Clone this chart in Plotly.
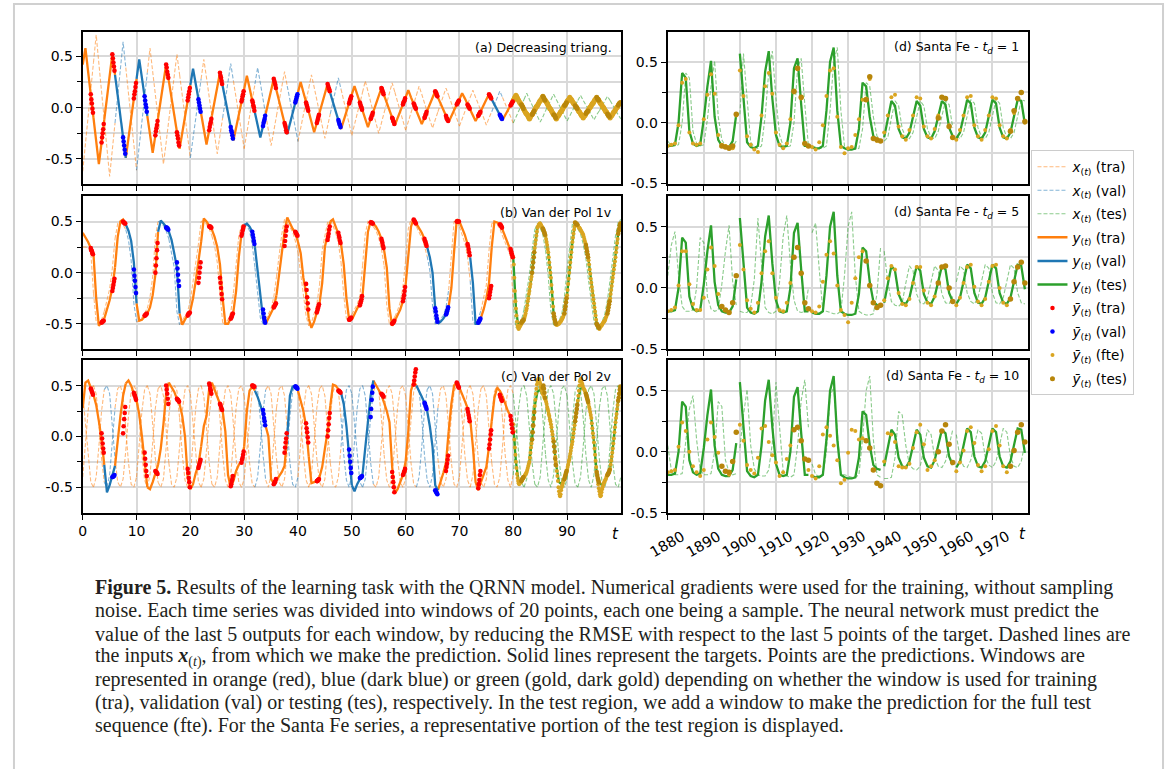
import plotly.graph_objects as go

W, H = 1170, 769

# ---------------- (a) Decreasing triangular ----------------
A_Y = [0.42, 0.58, 0.35, 0.13, -0.10, -0.32, -0.55, -0.34, -0.12, 0.09,
       0.31, 0.52, 0.32, 0.12, -0.09, -0.29, -0.49, -0.30, -0.11, 0.09,
       0.28, 0.47, 0.29, 0.11, -0.08, -0.26, -0.44, -0.27, -0.10, 0.08,
       0.25, 0.42, 0.26, 0.09, -0.07, -0.24, -0.40, -0.24, -0.09, 0.07,
       0.22, 0.38, 0.23, 0.08, -0.06, -0.21, -0.36, -0.22, -0.08, 0.06,
       0.20, 0.34, 0.21, 0.08, -0.06, -0.19, -0.32, -0.19, -0.07, 0.06,
       0.18, 0.31, 0.19, 0.07, -0.05, -0.17, -0.29, -0.18, -0.06, 0.05,
       0.17, 0.28, 0.17, 0.06, -0.04, -0.15, -0.26, -0.16, -0.06, 0.05,
       0.15, 0.25, 0.15, 0.05, -0.04, -0.14, -0.24, -0.15, -0.05, 0.04,
       0.14, 0.23, 0.14, 0.05, -0.03, -0.12, -0.21, -0.13, -0.04, 0.04,
       0.13, 0.21, 0.13, 0.05, -0.03, -0.11, -0.19, -0.11, -0.04, 0.04,
       0.11, 0.19, 0.12, 0.05, -0.03, -0.10, -0.17, -0.10, -0.03, 0.03,
       0.10, 0.17, 0.10, 0.04, -0.03, -0.09, -0.16, -0.10, -0.03, 0.03,
       0.10, 0.16, 0.10, 0.04, -0.02, -0.08, -0.14, -0.08, -0.03, 0.03,
       0.08, 0.14, 0.09, 0.03, -0.02, -0.08, -0.13, -0.08, -0.03, 0.03,
       0.08, 0.13, 0.08, 0.03, -0.02, -0.07, -0.12, -0.07, -0.02, 0.02,
       0.07, 0.12, 0.07, 0.03, -0.02, -0.06, -0.11, -0.07, -0.02, 0.02,
       0.07, 0.11, 0.07, 0.02, -0.02, -0.07, -0.11, -0.07, -0.03, 0.02,
       0.06, 0.10, 0.06, 0.02, -0.02, -0.06, -0.10, -0.06, -0.02, 0.02,
       0.06, 0.10, 0.06, 0.02, -0.02, -0.06, -0.10, -0.06, -0.02, 0.02,
       0.06]
A_X = [-0.62, -0.35, -0.09, 0.18, 0.44, 0.71, 0.43, 0.16, -0.12, -0.39,
       -0.67, -0.41, -0.15, 0.12, 0.38, 0.64, 0.39, 0.14, -0.11, -0.36,
       -0.61, -0.37, -0.13, 0.10, 0.34, 0.58, 0.35, 0.13, -0.10, -0.32,
       -0.55, -0.34, -0.12, 0.09, 0.31, 0.52, 0.32, 0.12, -0.09, -0.29,
       -0.49, -0.30, -0.11, 0.09, 0.28, 0.47, 0.29, 0.10, -0.08, -0.27,
       -0.45, -0.27, -0.10, 0.08, 0.25, 0.43, 0.26, 0.10, -0.07, -0.23,
       -0.40, -0.24, -0.08, 0.07, 0.23, 0.39, 0.24, 0.09, -0.07, -0.22,
       -0.37, -0.23, -0.08, 0.06, 0.21, 0.35, 0.21, 0.08, -0.06, -0.19,
       -0.33, -0.20, -0.07, 0.06, 0.19, 0.32, 0.20, 0.07, -0.05, -0.17,
       -0.30, -0.18, -0.06, 0.05, 0.17, 0.29, 0.18, 0.07, -0.05, -0.16,
       -0.27, -0.16, -0.06, 0.05, 0.15, 0.26, 0.16, 0.06, -0.05, -0.15,
       -0.25, -0.15, -0.05, 0.04, 0.14, 0.24, 0.15, 0.06, -0.04, -0.13,
       -0.22, -0.13, -0.05, 0.04, 0.12, 0.21, 0.13, 0.05, -0.04, -0.12,
       -0.20, -0.12, -0.04, 0.03, 0.11, 0.19, 0.12, 0.04, -0.03, -0.11,
       -0.18, -0.11, -0.04, 0.03, 0.10, 0.17, 0.10, 0.03, -0.03, -0.10,
       -0.17, -0.10, -0.04, 0.03, 0.09, 0.16, 0.10, 0.04, -0.03, -0.09,
       -0.15, -0.09, -0.03, 0.02, 0.08, 0.14, 0.08, 0.03, -0.03, -0.08,
       -0.14, -0.09, -0.03, 0.02, 0.08, 0.13, 0.08, 0.03, -0.03, -0.08,
       -0.13, -0.08, -0.03, 0.02, 0.07, 0.12, 0.07, 0.02, -0.02, -0.07,
       -0.12, -0.07, -0.03, 0.02, 0.06, 0.11, 0.07, 0.02, -0.02, -0.07,
       -0.11]
A_P = [0.13, 0.08, 0.04, -0.01, -0.05, -0.34, -0.29, -0.25, -0.21, -0.16,
       0.52, 0.48, 0.44, 0.40, 0.36, -0.29, -0.33, -0.37, -0.41, -0.45,
       0.09, 0.13, 0.16, 0.20, 0.24, 0.11, 0.07, 0.03, 0.00, -0.04,
       -0.27, -0.23, -0.20, -0.17, -0.13, 0.42, 0.39, 0.35, 0.32, 0.29,
       -0.24, -0.27, -0.30, -0.34, -0.37, 0.07, 0.10, 0.13, 0.16, 0.19,
       0.08, 0.05, 0.02, -0.01, -0.04, -0.22, -0.19, -0.16, -0.14, -0.11,
       0.34, 0.31, 0.29, 0.26, 0.23, -0.19, -0.22, -0.24, -0.27, -0.30,
       0.06, 0.08, 0.11, 0.13, 0.16, 0.07, 0.05, 0.02, 0.00, -0.03,
       -0.18, -0.15, -0.13, -0.11, -0.08, 0.28, 0.26, 0.24, 0.22, 0.19,
       -0.15, -0.17, -0.19, -0.22, -0.24, 0.05, 0.07, 0.09, 0.11, 0.13,
       0.05, 0.03, 0.01, -0.01, -0.03, -0.15, -0.13, -0.11, -0.09, -0.07,
       0.23, 0.21, 0.19, 0.18, 0.16, -0.12, -0.14, -0.16, -0.17, -0.19,
       0.04, 0.06, 0.08, 0.09, 0.11, 0.05, 0.03, 0.01, 0.00, -0.02,
       -0.11, -0.10, -0.08, -0.07, -0.05, 0.19, 0.18, 0.16, 0.15, 0.13,
       -0.10, -0.11, -0.13, -0.14, -0.16, 0.03, 0.05, 0.06, 0.07, 0.09,
       0.04, 0.03, 0.01, 0.00, -0.01, -0.10, -0.09, -0.07, -0.06, -0.04,
       0.16, 0.15, 0.14, 0.12, 0.11, -0.08, -0.10, -0.11, -0.12, -0.13,
       0.03, 0.04, 0.05, 0.06, 0.07, 0.03, 0.02, 0.01, 0.00, -0.01,
       -0.08, -0.07, -0.06, -0.05, -0.04, 0.13, 0.12, 0.11, 0.10, 0.09,
       -0.07, -0.08, -0.09, -0.10, -0.11, 0.02, 0.03, 0.04, 0.05, 0.06,
       0.03, 0.02, 0.01, 0.00, -0.01, -0.07, -0.06, -0.05, -0.04, -0.03,
       0.11, 0.10, 0.09, 0.08, 0.07, -0.07, -0.07, -0.08, -0.09, -0.10,
       0.02, 0.02, 0.03, 0.04, 0.05, 0.02, 0.01, 0.00, 0.00, -0.01,
       -0.06, -0.05, -0.04, -0.04, -0.03, 0.10, 0.09, 0.08, 0.08, 0.07,
       -0.06, -0.07, -0.08, -0.08, -0.09, 0.02, 0.03, 0.04, 0.04, 0.05]
A_F = [0.07, 0.08, 0.09, 0.10, 0.11,
       0.12, 0.11, 0.10, 0.09, 0.08, 0.07, 0.06, 0.05, 0.04, 0.04, 0.03, 0.02, 0.01, 0.00, -0.01,
       -0.02, -0.03, -0.04, -0.05, -0.06, -0.06, -0.07, -0.08, -0.09, -0.10,
       -0.11, -0.10, -0.09, -0.08, -0.07, -0.07, -0.06, -0.05, -0.04, -0.03, -0.02, -0.01, 0.00, 0.01, 0.01,
       0.02, 0.03, 0.04, 0.05, 0.06, 0.07, 0.07, 0.08, 0.09, 0.10,
       0.11, 0.10, 0.09, 0.08, 0.07, 0.07, 0.06, 0.05, 0.04, 0.03, 0.02, 0.01, 0.00, -0.01, -0.01,
       -0.02, -0.03, -0.04, -0.05, -0.06, -0.07, -0.07, -0.08, -0.09, -0.10,
       -0.11, -0.10, -0.09, -0.08, -0.08, -0.07, -0.06, -0.05, -0.04, -0.04, -0.03, -0.02, -0.01, 0.00, 0.01,
       0.02, 0.02, 0.03, 0.04, 0.05, 0.06, 0.07, 0.07, 0.08, 0.09,
       0.10, 0.09, 0.08, 0.08, 0.07, 0.06, 0.05, 0.04, 0.04, 0.03, 0.02, 0.01, 0.00, 0.00, -0.01,
       -0.02, -0.03, -0.04, -0.04, -0.05, -0.06, -0.07, -0.08, -0.08, -0.09,
       -0.10, -0.09, -0.08, -0.08, -0.07, -0.06, -0.05, -0.04, -0.04, -0.03, -0.02, -0.01, 0.00, 0.00, 0.01,
       0.02, 0.03, 0.04, 0.04, 0.05, 0.06, 0.07, 0.08, 0.08, 0.09,
       0.10, 0.09, 0.08, 0.08, 0.07, 0.06, 0.05, 0.04, 0.04, 0.03, 0.02, 0.01, 0.00, 0.00, -0.01,
       -0.02, -0.03, -0.04, -0.04, -0.05, -0.06, -0.07, -0.08, -0.08, -0.09,
       -0.10, -0.09, -0.08, -0.08, -0.07, -0.06, -0.05, -0.04, -0.04, -0.03,
       -0.02, -0.01, 0.00, 0.00, 0.01, 0.02, 0.03, 0.04, 0.04, 0.05]
A_VAL = [3, 5, 10, 13, 16, 19, 23, 38]

# ---------------- (b) Van der Pol 1v ----------------
B_Y = [0.39, 0.35, 0.30, 0.24, 0.18, -0.25, -0.52, -0.49, -0.45, -0.37,
       -0.27, -0.15, 0.05, 0.35, 0.50, 0.52, 0.47, 0.41, 0.31, 0.10,
       -0.30, -0.47, -0.46, -0.43, -0.40, -0.34, -0.22, -0.02, 0.40, 0.51,
       0.48, 0.45, 0.40, 0.32, 0.19, 0.05, -0.40, -0.51, -0.46, -0.41,
       -0.37, -0.25, -0.08, 0.10, 0.30, 0.53, 0.50, 0.46, 0.42, 0.35,
       0.25, 0.08, -0.25, -0.50, -0.50, -0.45, -0.38, -0.18, 0.15, 0.38,
       0.46, 0.48, 0.45, 0.40, 0.25, 0.03, -0.25, -0.45, -0.50, -0.45,
       -0.40, -0.34, -0.22, -0.02, 0.22, 0.40, 0.54, 0.48, 0.43, 0.39,
       0.30, 0.19, -0.05, -0.20, -0.45, -0.54, -0.48, -0.38, -0.30, -0.10,
       0.25, 0.38, 0.50, 0.52, 0.45, 0.38, 0.28, 0.08, -0.25, -0.46,
       -0.46, -0.40, -0.35, -0.30, -0.22, 0.10, 0.40, 0.50, 0.48, 0.45,
       0.40, 0.33, 0.22, 0.05, -0.35, -0.52, -0.47, -0.42, -0.36, -0.28,
       -0.12, 0.15, 0.45, 0.53, 0.48, 0.44, 0.39, 0.33, 0.25, 0.15,
       0.00, -0.35, -0.50, -0.48, -0.45, -0.41, -0.33, -0.15, 0.20, 0.52,
       0.50, 0.44, 0.37, 0.28, 0.15, -0.10, -0.50, -0.50, -0.44, -0.36,
       -0.25, -0.10, 0.25, 0.50, 0.49, 0.47, 0.42, 0.35, 0.28, 0.22,
       0.15, -0.35, -0.55, -0.50, -0.46, -0.35, -0.18, 0.00, 0.24, 0.44,
       0.48, 0.43, 0.36, 0.20, -0.05, -0.40, -0.51, -0.50, -0.46, -0.40,
       -0.22, 0.05, 0.30, 0.49, 0.46, 0.42, 0.37, 0.27, 0.12, -0.10,
       -0.30, -0.50, -0.55, -0.51, -0.47, -0.40, -0.25, -0.05, 0.15, 0.38,
       0.50]
B_X = [0.25, 0.25, 0.24, 0.20, -0.20, -0.48, -0.50, -0.46, -0.38, -0.28,
       -0.16, 0.04, 0.33, 0.48, 0.50, 0.47, 0.42, 0.32, 0.12, -0.30,
       -0.48, -0.47, -0.44, -0.40, -0.35, -0.24, -0.04, 0.35, 0.50, 0.49,
       0.46, 0.41, 0.33, 0.20, 0.05, -0.38, -0.51, -0.47, -0.42, -0.38,
       -0.27, -0.10, 0.08, 0.28, 0.50, 0.51, 0.47, 0.43, 0.36, 0.26,
       0.10, -0.22, -0.49, -0.50, -0.46, -0.39, -0.20, 0.12, 0.36, 0.46,
       0.48, 0.46, 0.41, 0.27, 0.05, -0.22, -0.44, -0.50, -0.46, -0.41,
       -0.35, -0.24, -0.04, 0.20, 0.38, 0.52, 0.49, 0.44, 0.40, 0.31,
       0.20, -0.02, -0.18, -0.42, -0.52, -0.49, -0.40, -0.31, -0.12, 0.22,
       0.36, 0.49, 0.51, 0.46, 0.39, 0.29, 0.10, -0.22, -0.45, -0.47,
       -0.41, -0.36, -0.31, -0.23, 0.07, 0.38, 0.50, 0.48, 0.45, 0.41,
       0.34, 0.23, 0.07, -0.32, -0.51, -0.48, -0.43, -0.37, -0.29, -0.14,
       0.12, 0.43, 0.52, 0.49, 0.45, 0.40, 0.34, 0.26, 0.16, 0.02,
       -0.32, -0.50, -0.49, -0.46, -0.42, -0.34, -0.17, 0.17, 0.50, 0.50,
       0.45, 0.38, 0.29, 0.16, -0.08, -0.48, -0.50, -0.45, -0.37, -0.26,
       -0.12, 0.22, 0.48, 0.49, 0.47, 0.43, 0.36, 0.29, 0.23, 0.16,
       -0.30, -0.54, -0.51, -0.47, -0.36, -0.20, -0.02, 0.22, 0.42, 0.48,
       0.44, 0.37, 0.22, -0.03, -0.38, -0.51, -0.51, -0.47, -0.41, -0.24,
       0.03, 0.28, 0.48, 0.47, 0.43, 0.38, 0.28, 0.14, -0.08, -0.28,
       -0.48, -0.55, -0.52, -0.48, -0.41, -0.27, -0.07, 0.13, 0.36, 0.49,
       0.52]
B_P = [0.24, 0.22, 0.21, 0.19, 0.18, -0.49, -0.48, -0.48, -0.47, -0.47,
       -0.18, -0.15, -0.12, -0.09, -0.06, 0.50, 0.49, 0.49, 0.48, 0.48,
       0.03, -0.03, -0.08, -0.14, -0.20, -0.42, -0.42, -0.41, -0.41, -0.40,
       0.00, 0.07, 0.14, 0.22, 0.29, 0.44, 0.44, 0.43, 0.43, 0.42,
       0.10, 0.04, -0.02, -0.08, -0.13, -0.42, -0.41, -0.40, -0.40, -0.39,
       -0.10, -0.05, 0.00, 0.05, 0.10, 0.45, 0.45, 0.45, 0.44, 0.44,
       -0.05, -0.10, -0.15, -0.21, -0.26, -0.45, -0.44, -0.43, -0.41, -0.40,
       0.36, 0.38, 0.41, 0.43, 0.45, 0.40, 0.37, 0.34, 0.31, 0.28,
       -0.36, -0.40, -0.44, -0.47, -0.49, -0.34, -0.33, -0.32, -0.31, -0.30,
       0.26, 0.31, 0.36, 0.41, 0.45, 0.40, 0.39, 0.38, 0.37, 0.36,
       -0.11, -0.17, -0.24, -0.30, -0.36, -0.39, -0.37, -0.35, -0.33, -0.31,
       0.32, 0.35, 0.38, 0.42, 0.45, 0.39, 0.36, 0.34, 0.31, 0.29,
       -0.46, -0.46, -0.45, -0.45, -0.44, -0.32, -0.30, -0.28, -0.26, -0.23,
       0.49, 0.49, 0.49, 0.48, 0.48, 0.33, 0.31, 0.29, 0.26, 0.24,
       -0.50, -0.49, -0.49, -0.48, -0.47, -0.28, -0.25, -0.22, -0.18, -0.14,
       0.52, 0.51, 0.50, 0.49, 0.48, 0.33, 0.31, 0.30, 0.28, 0.26,
       -0.35, -0.38, -0.42, -0.45, -0.48, -0.41, -0.40, -0.38, -0.36, -0.34,
       0.50, 0.50, 0.50, 0.50, 0.50, 0.28, 0.26, 0.23, 0.20, 0.17,
       -0.49, -0.48, -0.47, -0.46, -0.45, -0.25, -0.22, -0.19, -0.16, -0.13,
       0.47, 0.47, 0.46, 0.45, 0.44, 0.23, 0.21, 0.19, 0.17, 0.15,
       -0.49, -0.48, -0.47, -0.47, -0.46, 0.00, 0.05, 0.10, 0.15, 0.20,
       0.43, 0.42, 0.40, 0.39, 0.37, -0.40, -0.43, -0.46, -0.48, -0.50,
       -0.40, -0.36, -0.33, -0.29, -0.25, 0.49, 0.48, 0.48, 0.47, 0.47,
       0.27, 0.24, 0.21, 0.18, 0.15, -0.50, -0.51, -0.52, -0.53, -0.54,
       -0.40, -0.37, -0.34, -0.31, -0.28, 0.38, 0.41, 0.43, 0.46, 0.48]
B_F = [0.15, 0.08, -0.05, -0.18, -0.28, -0.35, -0.42, -0.48, -0.52, -0.54,
       -0.55, -0.54, -0.53, -0.52, -0.51, -0.50, -0.49, -0.48, -0.47, -0.47,
       -0.46, -0.44, -0.42, -0.40, -0.37, -0.35, -0.32, -0.28, -0.25, -0.21,
       -0.18, -0.14, -0.11, -0.07, -0.04, 0.00, 0.05, 0.10, 0.15, 0.20,
       0.24, 0.28, 0.32, 0.36, 0.40, 0.44, 0.45, 0.46, 0.47, 0.48,
       0.48, 0.47, 0.46, 0.45, 0.44, 0.43, 0.42, 0.40, 0.39, 0.37,
       0.36, 0.33, 0.30, 0.27, 0.23, 0.20, 0.15, 0.10, 0.05, 0.00,
       -0.05, -0.12, -0.19, -0.26, -0.33, -0.40, -0.43, -0.46, -0.48, -0.50,
       -0.51, -0.51, -0.51, -0.50, -0.50, -0.50, -0.49, -0.48, -0.48, -0.47,
       -0.46, -0.45, -0.44, -0.43, -0.41, -0.40, -0.36, -0.33, -0.29, -0.25,
       -0.22, -0.17, -0.11, -0.06, 0.00, 0.05, 0.10, 0.15, 0.20, 0.25,
       0.30, 0.34, 0.38, 0.42, 0.45, 0.49, 0.48, 0.48, 0.47, 0.47,
       0.46, 0.45, 0.44, 0.44, 0.43, 0.42, 0.41, 0.40, 0.39, 0.38,
       0.37, 0.35, 0.33, 0.31, 0.29, 0.27, 0.24, 0.21, 0.18, 0.15,
       0.12, 0.08, 0.03, -0.01, -0.06, -0.10, -0.14, -0.18, -0.22, -0.26,
       -0.30, -0.34, -0.38, -0.42, -0.46, -0.50, -0.51, -0.52, -0.53, -0.54,
       -0.55, -0.54, -0.53, -0.52, -0.52, -0.51, -0.50, -0.49, -0.48, -0.48,
       -0.47, -0.46, -0.44, -0.43, -0.41, -0.40, -0.37, -0.34, -0.31, -0.28,
       -0.25, -0.21, -0.17, -0.13, -0.09, -0.05, -0.01, 0.03, 0.07, 0.11,
       0.15, 0.20, 0.24, 0.29, 0.33, 0.38, 0.41, 0.43, 0.46, 0.48]
B_VAL = [4, 7, 8, 15, 16, 32, 33, 36]

# ---------------- (c) Van der Pol 2v ----------------
C_Y = [0.28, 0.53, 0.55, 0.47, 0.41, 0.31, 0.15, -0.03, -0.28, -0.55,
       -0.48, -0.39, -0.29, -0.02, 0.20, 0.40, 0.52, 0.55, 0.50, 0.42,
       0.35, 0.22, 0.00, -0.28, -0.50, -0.52, -0.45, -0.37, -0.28, -0.12,
       0.12, 0.42, 0.53, 0.49, 0.44, 0.37, 0.32, 0.20, 0.00, -0.40,
       -0.52, -0.47, -0.36, -0.28, -0.10, 0.10, 0.20, 0.47, 0.53, 0.46,
       0.40, 0.31, 0.25, 0.05, -0.38, -0.50, -0.44, -0.34, -0.28, -0.24,
       -0.10, 0.25, 0.45, 0.49, 0.45, 0.39, 0.31, 0.22, 0.10, 0.00,
       -0.42, -0.46, -0.43, -0.39, -0.35, -0.29, 0.00, 0.40, 0.49, 0.50,
       0.45, 0.35, 0.25, 0.10, -0.20, -0.46, -0.45, -0.44, -0.40, -0.30,
       -0.12, 0.05, 0.30, 0.51, 0.50, 0.46, 0.43, 0.32, 0.10, -0.18,
       -0.48, -0.54, -0.47, -0.42, -0.37, -0.10, 0.20, 0.40, 0.55, 0.50,
       0.45, 0.41, 0.33, 0.25, 0.14, -0.30, -0.56, -0.52, -0.45, -0.38,
       -0.25, 0.05, 0.45, 0.54, 0.50, 0.45, 0.39, 0.33, 0.25, 0.10,
       -0.10, -0.48, -0.53, -0.45, -0.36, -0.26, 0.05, 0.32, 0.50, 0.53,
       0.48, 0.42, 0.35, 0.28, 0.17, -0.10, -0.45, -0.53, -0.45, -0.38,
       -0.30, -0.10, 0.15, 0.38, 0.48, 0.45, 0.40, 0.32, 0.25, 0.20,
       0.10, -0.25, -0.45, -0.44, -0.40, -0.35, -0.25, -0.03, 0.30, 0.44,
       0.46, 0.42, 0.36, 0.25, 0.12, -0.05, -0.29, -0.45, -0.47, -0.42,
       -0.33, -0.20, -0.05, 0.15, 0.35, 0.47, 0.48, 0.42, 0.32, 0.18,
       -0.06, -0.35, -0.46, -0.48, -0.44, -0.38, -0.32, -0.12, 0.14, 0.35,
       0.50]
C_X1 = [0.42, 0.12, -0.22, -0.45,
        -0.50, -0.40, -0.10, 0.25, 0.46, 0.50, 0.42, 0.12, -0.22, -0.45,
        -0.50, -0.42, -0.14, 0.20, 0.44, 0.50, 0.45, 0.18, -0.18, -0.43,
        -0.50, -0.38, -0.06, 0.28, 0.47, 0.50, 0.40, 0.08, -0.26, -0.47,
        -0.50, -0.40, -0.10, 0.25, 0.46, 0.50, 0.42, 0.12, -0.22, -0.45,
        -0.50, -0.42, -0.14, 0.20, 0.44, 0.50, 0.45, 0.18, -0.18, -0.43,
        -0.50, -0.38, -0.06, 0.28, 0.47, 0.50, 0.40, 0.08, -0.26, -0.47,
        -0.50, -0.40, -0.10, 0.25, 0.46, 0.50, 0.42, 0.12, -0.22, -0.45,
        -0.50, -0.42, -0.14, 0.20, 0.44, 0.50, 0.45, 0.18, -0.18, -0.43,
        -0.50, -0.38, -0.06, 0.28, 0.47, 0.50, 0.40, 0.08, -0.26, -0.47,
        -0.50, -0.40, -0.10, 0.25, 0.46, 0.50, 0.42, 0.12, -0.22, -0.45,
        -0.50, -0.42, -0.14, 0.20, 0.44, 0.50, 0.45, 0.18, -0.18, -0.43,
        -0.50, -0.38, -0.06, 0.28, 0.47, 0.50, 0.40, 0.08, -0.26, -0.47,
        -0.50, -0.40, -0.10, 0.25, 0.46, 0.50, 0.42, 0.12, -0.22, -0.45,
        -0.50, -0.42, -0.14, 0.20, 0.44, 0.50, 0.45, 0.18, -0.18, -0.43,
        -0.50, -0.38, -0.06, 0.28, 0.47, 0.50, 0.40, 0.08, -0.26, -0.47,
        -0.50, -0.40, -0.10, 0.25, 0.46, 0.50, 0.42, 0.12, -0.22, -0.45,
        -0.50, -0.42, -0.14, 0.20, 0.44, 0.50, 0.45, 0.18, -0.18, -0.43,
        -0.50, -0.38, -0.06, 0.28, 0.47, 0.50, 0.40, 0.08, -0.26, -0.47,
        -0.50, -0.40, -0.10, 0.25, 0.46, 0.50, 0.42, 0.12, -0.22, -0.45,
        -0.50, -0.40, -0.10, 0.25, 0.46, 0.50, 0.42]
C_X2 = [-0.40, -0.10, 0.25, 0.46, 0.50, 0.42, 0.12, -0.22, -0.45,
        -0.50, -0.38, -0.06, 0.28, 0.47, 0.50, 0.40, 0.08, -0.26, -0.47,
        -0.50, -0.40, -0.10, 0.25, 0.46, 0.50, 0.42, 0.12, -0.22, -0.45,
        -0.50, -0.42, -0.14, 0.20, 0.44, 0.50, 0.45, 0.18, -0.18, -0.43,
        -0.50, -0.38, -0.06, 0.28, 0.47, 0.50, 0.40, 0.08, -0.26, -0.47,
        -0.50, -0.40, -0.10, 0.25, 0.46, 0.50, 0.42, 0.12, -0.22, -0.45,
        -0.50, -0.42, -0.14, 0.20, 0.44, 0.50, 0.45, 0.18, -0.18, -0.43,
        -0.50, -0.38, -0.06, 0.28, 0.47, 0.50, 0.40, 0.08, -0.26, -0.47,
        -0.50, -0.40, -0.10, 0.25, 0.46, 0.50, 0.42, 0.12, -0.22, -0.45,
        -0.50, -0.42, -0.14, 0.20, 0.44, 0.50, 0.45, 0.18, -0.18, -0.43,
        -0.50, -0.38, -0.06, 0.28, 0.47, 0.50, 0.40, 0.08, -0.26, -0.47,
        -0.50, -0.40, -0.10, 0.25, 0.46, 0.50, 0.42, 0.12, -0.22, -0.45,
        -0.50, -0.42, -0.14, 0.20, 0.44, 0.50, 0.45, 0.18, -0.18, -0.43,
        -0.50, -0.38, -0.06, 0.28, 0.47, 0.50, 0.40, 0.08, -0.26, -0.47,
        -0.50, -0.40, -0.10, 0.25, 0.46, 0.50, 0.42, 0.12, -0.22, -0.45,
        -0.50, -0.42, -0.14, 0.20, 0.44, 0.50, 0.45, 0.18, -0.18, -0.43,
        -0.50, -0.38, -0.06, 0.28, 0.47, 0.50, 0.40, 0.08, -0.26, -0.47,
        -0.50, -0.40, -0.10, 0.25, 0.46, 0.50, 0.42, 0.12, -0.22, -0.45,
        -0.50, -0.42, -0.14, 0.20, 0.44, 0.50, 0.45, 0.18, -0.18, -0.43,
        -0.50, -0.38, -0.06, 0.28, 0.47, 0.50, 0.40, 0.08, -0.26, -0.47,
        -0.50, -0.40]
C_P = [0.47, 0.46, 0.44, 0.43, 0.41, 0.03, -0.02, -0.07, -0.12, -0.16,
       -0.40, -0.40, -0.39, -0.39, -0.38, 0.03, 0.10, 0.17, 0.23, 0.29,
       0.43, 0.41, 0.40, 0.38, 0.36, -0.16, -0.22, -0.28, -0.34, -0.39,
       -0.34, -0.35, -0.35, -0.36, -0.37, 0.50, 0.46, 0.42, 0.37, 0.32,
       0.37, 0.36, 0.36, 0.35, 0.34, -0.32, -0.36, -0.41, -0.45, -0.50,
       -0.31, -0.29, -0.27, -0.25, -0.23, 0.52, 0.50, 0.47, 0.45, 0.42,
       0.32, 0.31, 0.29, 0.27, 0.26, -0.49, -0.47, -0.44, -0.42, -0.39,
       -0.26, -0.23, -0.21, -0.18, -0.15, 0.50, 0.50, 0.49, 0.49, 0.49,
       0.26, 0.22, 0.18, 0.15, 0.11, -0.47, -0.46, -0.45, -0.44, -0.42,
       -0.16, -0.11, -0.06, -0.02, 0.03, 0.49, 0.49, 0.48, 0.48, 0.47,
       0.13, 0.08, 0.04, -0.01, -0.06, -0.44, -0.44, -0.43, -0.43, -0.42,
       0.00, 0.06, 0.12, 0.18, 0.23, 0.45, 0.45, 0.44, 0.44, 0.43,
       -0.13, -0.19, -0.25, -0.31, -0.36, -0.41, -0.41, -0.40, -0.40, -0.39,
       0.19, 0.27, 0.36, 0.43, 0.49, 0.42, 0.41, 0.41, 0.40, 0.39,
       -0.35, -0.40, -0.45, -0.50, -0.55, -0.38, -0.37, -0.35, -0.34, -0.32,
       0.51, 0.55, 0.59, 0.63, 0.66, 0.33, 0.32, 0.30, 0.29, 0.27,
       -0.53, -0.54, -0.55, -0.56, -0.57, -0.34, -0.30, -0.27, -0.23, -0.19,
       0.53, 0.52, 0.50, 0.49, 0.48, 0.27, 0.24, 0.21, 0.18, 0.15,
       -0.51, -0.47, -0.43, -0.38, -0.34, -0.12, -0.08, -0.03, 0.02, 0.06,
       0.41, 0.39, 0.38, 0.36, 0.35, 0.20, 0.16, 0.12, 0.08, 0.04,
       -0.44, -0.43, -0.42, -0.41, -0.40, -0.03, 0.04, 0.11, 0.18, 0.24,
       0.48, 0.50, 0.47, 0.43, 0.38, -0.05, -0.10, -0.15, -0.22, -0.28,
       -0.42, -0.40, -0.38, -0.36, -0.34, 0.15, 0.19, 0.23, 0.27, 0.31,
       0.42, 0.40, 0.38, 0.36, 0.34, -0.35, -0.38, -0.41, -0.43, -0.45,
       -0.38, -0.37, -0.36, -0.35, -0.33, 0.35, 0.38, 0.42, 0.46, 0.49]
C_F = [0.12, 0.05, -0.03, -0.11, -0.18, -0.25, -0.31, -0.37, -0.41, -0.44,
       -0.46, -0.47, -0.46, -0.45, -0.45, -0.44, -0.43, -0.42, -0.41, -0.41,
       -0.40, -0.39, -0.38, -0.37, -0.36, -0.35, -0.33, -0.31, -0.29, -0.27,
       -0.25, -0.21, -0.16, -0.11, -0.07, -0.03, 0.04, 0.10, 0.17, 0.24,
       0.30, 0.36, 0.42, 0.47, 0.51, 0.54, 0.56, 0.57, 0.56, 0.54,
       0.52, 0.49, 0.47, 0.45, 0.43, 0.42, 0.41, 0.40, 0.38, 0.37,
       0.36, 0.34, 0.32, 0.29, 0.27, 0.25, 0.22, 0.20, 0.17, 0.15,
       0.12, 0.09, 0.05, 0.02, -0.02, -0.05, -0.10, -0.15, -0.20, -0.25,
       -0.29, -0.34, -0.39, -0.44, -0.50, -0.54, -0.57, -0.59, -0.57, -0.53,
       -0.50, -0.48, -0.46, -0.44, -0.43, -0.42, -0.40, -0.38, -0.36, -0.35,
       -0.33, -0.30, -0.28, -0.25, -0.23, -0.20, -0.17, -0.14, -0.11, -0.08,
       -0.05, -0.01, 0.03, 0.07, 0.11, 0.15, 0.19, 0.23, 0.27, 0.31,
       0.35, 0.40, 0.45, 0.50, 0.54, 0.56, 0.57, 0.55, 0.52, 0.50,
       0.48, 0.47, 0.46, 0.45, 0.43, 0.42, 0.40, 0.38, 0.36, 0.34,
       0.32, 0.29, 0.27, 0.24, 0.21, 0.18, 0.13, 0.08, 0.03, -0.01,
       -0.06, -0.12, -0.18, -0.24, -0.30, -0.35, -0.39, -0.43, -0.47, -0.51,
       -0.54, -0.57, -0.59, -0.58, -0.55, -0.52, -0.50, -0.48, -0.46, -0.45,
       -0.44, -0.43, -0.42, -0.40, -0.39, -0.38, -0.37, -0.36, -0.35, -0.33,
       -0.32, -0.28, -0.24, -0.20, -0.16, -0.12, -0.07, -0.02, 0.04, 0.09,
       0.14, 0.18, 0.22, 0.27, 0.31, 0.35, 0.38, 0.42, 0.46, 0.49]
C_VAL = [2, 16, 19, 24, 25, 26, 31, 32]

# ---------------- (d) Santa Fe (years 1870-1979) ----------------
SF_FIRST_YEAR = 1870
SF_Y = [0.05, -0.15, -0.19, -0.19, -0.18, 0.10, 0.35, 0.46, 0.10, -0.15,
        -0.19, -0.19, -0.18, 0.00, 0.41, 0.37, -0.07, -0.17, -0.19, -0.18,
        0.03, 0.30, 0.51, 0.05, -0.14, -0.19, -0.20, -0.20, -0.15, 0.07,
        0.57, 0.20, -0.16, -0.20, -0.21, -0.19, 0.05, 0.42, 0.59, 0.20,
        -0.10, -0.19, -0.20, -0.19, 0.00, 0.45, 0.53, 0.15, -0.19, -0.19,
        -0.20, -0.21, -0.21, -0.19, 0.10, 0.50, 0.62, 0.10, -0.19, -0.21,
        -0.22, -0.22, -0.21, -0.05, 0.33, 0.30, 0.05, -0.11, -0.14, -0.15,
        -0.12, 0.04, 0.18, 0.14, -0.05, -0.12, -0.13, -0.08, 0.05, 0.18,
        0.14, -0.05, -0.12, -0.13, -0.07, 0.05, 0.18, 0.15, -0.04, -0.11,
        -0.13, -0.08, 0.05, 0.19, 0.16, -0.04, -0.12, -0.13, -0.08, 0.07,
        0.19, 0.16, -0.04, -0.12, -0.13, -0.08, 0.07, 0.19, 0.18, -0.01]
TES_YEARS = [1895, 1896, 1897, 1898, 1899, 1915, 1916, 1917, 1918, 1919,
             1935, 1936, 1937, 1938, 1939, 1955, 1956, 1957, 1958, 1959,
             1975, 1976, 1977, 1978, 1979]
TD1_F = [-0.19, -0.18, -0.17, -0.02, 0.33, 0.36, -0.08, -0.17, -0.18, -0.17,
         0.03, 0.23, 0.40, 0.24, -0.10, -0.18, -0.19, -0.20, -0.21, 0.06,
         0.43, 0.22, -0.11, -0.18, -0.22, -0.24, 0.06, 0.30, 0.41, 0.24,
         -0.08, -0.18, -0.21, -0.17, 0.03, 0.25, 0.44, 0.20, -0.17, -0.19,
         -0.20, -0.22, -0.16, -0.02, 0.22, 0.43, 0.45, 0.05, -0.20, -0.25,
         -0.21, -0.20, -0.10, 0.03, 0.19, 0.20, 0.36, -0.13, -0.15, -0.15,
         -0.08, 0.06, 0.21, 0.23, -0.03, -0.11, -0.14, -0.06, 0.06, 0.21,
         0.20, -0.03, -0.11, -0.13, -0.05, 0.06, 0.21, 0.20, -0.02, -0.12,
         -0.14, -0.06, 0.06, 0.21, 0.22, -0.02, -0.11, -0.14, -0.06, 0.06,
         0.21, 0.20, -0.02, -0.11, -0.13, -0.06, 0.08, 0.20, 0.25, 0.00]
TD1_T = [-0.19, -0.20, -0.21, -0.19, 0.07, 0.26, 0.45, 0.21, -0.17, -0.19,
         0.19, 0.38, -0.13, -0.14, -0.15, 0.04, 0.21, 0.20, -0.03, -0.12,
         -0.07, 0.10, 0.20, 0.25, 0.01]
TD5_F = [-0.19, -0.18, -0.16, 0.02, 0.30, 0.30, 0.03, -0.13, -0.18, -0.18,
         -0.08, 0.15, 0.33, 0.18, -0.05, -0.15, -0.18, -0.20, -0.12, 0.10,
         0.35, 0.15, -0.10, -0.17, -0.20, -0.12, 0.12, 0.30, 0.38, 0.12,
         -0.08, -0.18, -0.19, -0.12, 0.04, 0.25, 0.33, 0.12, -0.12, -0.17,
         -0.19, -0.20, -0.15, 0.05, 0.27, 0.38, 0.28, 0.02, -0.18, -0.22,
         -0.28, -0.12, 0.08, 0.25, 0.30, 0.22, 0.02, -0.12, -0.16, -0.14,
         -0.10, 0.08, 0.18, 0.15, -0.04, -0.13, -0.14, -0.09, 0.04, 0.17,
         0.17, -0.02, -0.12, -0.14, -0.07, 0.04, 0.17, 0.18, 0.00, -0.11,
         -0.14, -0.08, 0.04, 0.17, 0.19, 0.01, -0.11, -0.14, -0.09, 0.05,
         0.18, 0.19, 0.00, -0.12, -0.14, -0.09, 0.05, 0.17, 0.21, 0.04]
TD5_T = [-0.15, -0.18, -0.20, -0.12, 0.10, 0.25, 0.33, 0.12, -0.12, -0.17,
         0.22, 0.02, -0.12, -0.16, -0.14, 0.04, 0.17, 0.18, 0.00, -0.11,
         -0.09, 0.05, 0.17, 0.21, 0.04]
TD10_F = [-0.17, -0.16, -0.15, 0.04, 0.24, 0.17, 0.00, -0.12, -0.17, -0.20,
          -0.15, 0.10, 0.24, 0.12, -0.01, -0.12, -0.16, -0.19, -0.08, 0.16,
          0.22, 0.09, -0.11, -0.15, -0.18, -0.05, 0.19, 0.21, 0.08, -0.03,
          -0.09, -0.20, -0.17, -0.06, 0.05, 0.18, 0.20, 0.09, -0.06, -0.15,
          -0.20, -0.22, -0.12, 0.14, 0.20, 0.13, 0.05, -0.07, -0.26, -0.23,
          -0.01, 0.18, 0.17, 0.10, 0.11, 0.09, 0.03, -0.15, -0.26, -0.28,
          -0.08, 0.15, 0.14, 0.08, -0.12, -0.13, -0.13, -0.10, 0.03, 0.16,
          0.22, 0.06, -0.15, -0.12, -0.07, 0.00, 0.17, 0.22, 0.06, -0.09,
          -0.16, -0.09, 0.01, 0.17, 0.20, 0.07, -0.11, -0.16, -0.12, 0.02,
          0.17, 0.21, 0.05, -0.12, -0.17, -0.12, 0.01, 0.16, 0.22, 0.08]
TD10_T = [-0.12, -0.16, -0.17, -0.08, 0.16, 0.18, 0.20, 0.09, -0.06, -0.07,
          0.09, 0.03, -0.15, -0.26, -0.28, 0.00, 0.17, 0.22, 0.06, -0.09,
          -0.12, 0.01, 0.16, 0.22, 0.08]

LEFT_XTICKS = [0, 10, 20, 30, 40, 50, 60, 70, 80, 90]
RIGHT_XTICKS = [1880, 1890, 1900, 1910, 1920, 1930, 1940, 1950, 1960, 1970]
YTICKS = [-0.5, 0.0, 0.5]
YTICK_TEXT = ['-0.5', '0.0', '0.5']
YMINOR = [-0.25, 0.25]

# ---------------- styling ----------------
ORANGE, BLUE, GREEN = '#ff7f0e', '#1f77b4', '#2ca02c'
LINE_COL = {'t': ORANGE, 'v': BLUE, 'e': GREEN}
DASH_COL = {'t': 'rgba(255,127,14,0.55)', 'v': 'rgba(31,119,180,0.55)', 'e': 'rgba(44,160,44,0.55)'}
DOT_COL = {'t': '#ff0000', 'v': '#0000ff', 'e': '#b8860b'}
FTE_COL = '#daa520'
TES_COL = '#b8860b'
DASH = '4px,2px'
FONT = 'DejaVu Sans'
GRID = '#d9d9d9'


def px(x):
    return x / W


def py(y):
    return 1 - y / H


LEFT_DOM = [px(79), px(619)]
RIGHT_DOM = [px(666), px(1028)]
ROW_DOM = [[py(185.5), py(32)], [py(353), py(198)], [py(518), py(364)]]

fig = go.Figure()

STEP = 0.5
N_WIN = 50


def roles_for(val):
    return ['e' if k >= 40 else ('v' if k in val else 't') for k in range(N_WIN)]


def add_windows(series, roles, ax, dashed):
    for role in 'tve':
        xs, ys = [], []
        for k in range(N_WIN):
            if roles[k] != role:
                continue
            for i in range(4 * k, 4 * k + 5):
                if i < len(series):
                    xs.append(i * STEP)
                    ys.append(series[i])
            xs.append(None)
            ys.append(None)
        if not xs:
            continue
        if dashed:
            line = dict(color=DASH_COL[role], width=1.1, dash=DASH)
        else:
            line = dict(color=LINE_COL[role], width=2.3)
        fig.add_trace(go.Scatter(x=xs, y=ys, mode='lines', line=line, showlegend=False,
                                 hoverinfo='skip', xaxis='x' + ax, yaxis='y' + ax))


def add_left(ax, dashed_list, y, preds, fte, val, fte_size):
    roles = roles_for(val)
    for d in dashed_list:
        add_windows(d, roles, ax, True)
    add_windows(y, roles, ax, False)
    fx = [80 + 0.1 * i for i in range(len(fte))]
    fig.add_trace(go.Scatter(x=fx, y=fte, mode='markers', marker=dict(color=FTE_COL, size=fte_size),
                             showlegend=False, hoverinfo='skip', xaxis='x' + ax, yaxis='y' + ax))
    for role in 'tve':
        xs, ys = [], []
        for k in range(N_WIN):
            if roles[k] != role:
                continue
            for j in range(5):
                idx = 5 * k + j
                if idx < len(preds):
                    xs.append(2 * k + 1.5 + 0.1 * j)
                    ys.append(preds[idx])
        fig.add_trace(go.Scatter(x=xs, y=ys, mode='markers',
                                 marker=dict(color=DOT_COL[role], size=4.6),
                                 showlegend=False, hoverinfo='skip', xaxis='x' + ax, yaxis='y' + ax))


def add_right(ax, td, fte, tes):
    xs_d, ys_d, xs_s, ys_s = [], [], [], []
    for w in range(5):
        y0 = 1880 + 20 * w
        for yr in range(y0, y0 + 20):
            xs_d.append(yr)
            ys_d.append(SF_Y[yr - td - SF_FIRST_YEAR])
            xs_s.append(yr)
            ys_s.append(SF_Y[yr - SF_FIRST_YEAR])
        xs_d.append(None); ys_d.append(None)
        xs_s.append(None); ys_s.append(None)
    fig.add_trace(go.Scatter(x=xs_d, y=ys_d, mode='lines', line=dict(color=DASH_COL['e'], width=1.1, dash=DASH),
                             showlegend=False, hoverinfo='skip', xaxis='x' + ax, yaxis='y' + ax))
    fig.add_trace(go.Scatter(x=xs_s, y=ys_s, mode='lines', line=dict(color=GREEN, width=2.3),
                             showlegend=False, hoverinfo='skip', xaxis='x' + ax, yaxis='y' + ax))
    fig.add_trace(go.Scatter(x=list(range(1880, 1880 + len(fte))), y=fte, mode='markers',
                             marker=dict(color=FTE_COL, size=4),
                             showlegend=False, hoverinfo='skip', xaxis='x' + ax, yaxis='y' + ax))
    fig.add_trace(go.Scatter(x=TES_YEARS, y=tes, mode='markers', marker=dict(color=TES_COL, size=5.5),
                             showlegend=False, hoverinfo='skip', xaxis='x' + ax, yaxis='y' + ax))


add_left('', [A_X], A_Y, A_P, A_F, A_VAL, 5)
add_left('2', [B_X], B_Y, B_P, B_F, B_VAL, 4)
add_left('3', [C_X1, C_X2], C_Y, C_P, C_F, C_VAL, 4)
add_right('4', 1, TD1_F, TD1_T)
add_right('5', 5, TD5_F, TD5_T)
add_right('6', 10, TD10_F, TD10_T)

# legend entries
LEG = [
    ('<i>x</i><sub>(<i>t</i>)</sub> (tra)', 'lines', dict(color=DASH_COL['t'], width=1.1, dash=DASH), None),
    ('<i>x</i><sub>(<i>t</i>)</sub> (val)', 'lines', dict(color=DASH_COL['v'], width=1.1, dash=DASH), None),
    ('<i>x</i><sub>(<i>t</i>)</sub> (tes)', 'lines', dict(color=DASH_COL['e'], width=1.1, dash=DASH), None),
    ('<i>y</i><sub>(<i>t</i>)</sub> (tra)', 'lines', dict(color=ORANGE, width=2.5), None),
    ('<i>y</i><sub>(<i>t</i>)</sub> (val)', 'lines', dict(color=BLUE, width=2.5), None),
    ('<i>y</i><sub>(<i>t</i>)</sub> (tes)', 'lines', dict(color=GREEN, width=2.5), None),
    ('<i>ȳ</i><sub>(<i>t</i>)</sub> (tra)', 'markers', None, dict(color='#ff0000', size=4.5)),
    ('<i>ȳ</i><sub>(<i>t</i>)</sub> (val)', 'markers', None, dict(color='#0000ff', size=4.5)),
    ('<i>ȳ</i><sub>(<i>t</i>)</sub> (fte)', 'markers', None, dict(color=FTE_COL, size=4)),
    ('<i>ȳ</i><sub>(<i>t</i>)</sub> (tes)', 'markers', None, dict(color=TES_COL, size=5)),
]
for i, (name, mode, line, marker) in enumerate(LEG):
    kw = dict(x=[None], y=[None], mode=mode, name=name, showlegend=True, legendgroup='g%d' % i,
              xaxis='x', yaxis='y')
    if line:
        kw['line'] = line
    if marker:
        kw['marker'] = marker
    fig.add_trace(go.Scatter(**kw))


def axis_common():
    return dict(ticks='outside', ticklen=5, tickwidth=1.4, tickcolor='black',
                showline=True, linewidth=2, linecolor='black', mirror=True,
                showgrid=True, gridcolor=GRID, gridwidth=1.6, zeroline=False,
                tickfont=dict(family=FONT, size=14, color='black'))


layout = dict(width=W, height=H, margin=dict(l=0, r=0, t=0, b=0),
              paper_bgcolor='white', plot_bgcolor='white', showlegend=True,
              legend=dict(x=px(1031), y=py(152), xanchor='left', yanchor='top',
                          bordercolor='#cccccc', borderwidth=1, bgcolor='white',
                          font=dict(family=FONT, size=13.5, color='black'),
                          traceorder='grouped', tracegroupgap=3, itemwidth=30))

panels = [('', LEFT_DOM, 0, [0, 100], [-0.74, 0.74], LEFT_XTICKS, False),
          ('2', LEFT_DOM, 1, [0, 100], [-0.75, 0.75], LEFT_XTICKS, False),
          ('3', LEFT_DOM, 2, [0, 100], [-0.75, 0.75], LEFT_XTICKS, True),
          ('4', RIGHT_DOM, 0, [1880, 1980], [-0.5, 0.75], RIGHT_XTICKS, False),
          ('5', RIGHT_DOM, 1, [1880, 1980], [-0.5, 0.75], RIGHT_XTICKS, False),
          ('6', RIGHT_DOM, 2, [1880, 1980], [-0.5, 0.75], RIGHT_XTICKS, False)]
for ax, xdom, row, xr, yr, xt, showx in panels:
    xa = axis_common()
    xa.update(domain=xdom, anchor='y' + ax, range=xr, tickvals=xt, showticklabels=showx)
    ya = axis_common()
    ya.update(domain=ROW_DOM[row], anchor='x' + ax, range=yr, tickvals=YTICKS, ticktext=YTICK_TEXT,
              minor=dict(tickmode='array', tickvals=YMINOR, ticks='outside', ticklen=4, tickwidth=1.2,
                         tickcolor='black', showgrid=True, gridcolor=GRID, gridwidth=1.6))
    layout['xaxis' + ax] = xa
    layout['yaxis' + ax] = ya

fig.update_layout(**layout)

ann = []
labels = [('', '(a) Decreasing triang.'), ('2', '(b) Van der Pol 1v'), ('3', '(c) Van der Pol 2v'),
          ('4', '(d) Santa Fe - <i>t<sub>d</sub></i> = 1'), ('5', '(d) Santa Fe - <i>t<sub>d</sub></i> = 5'),
          ('6', '(d) Santa Fe - <i>t<sub>d</sub></i> = 10')]
for ax, txt in labels:
    xr = 0.987 if ax in ('', '2', '3') else 0.978
    ann.append(dict(xref=('x' + ax + ' domain') if ax else 'x domain',
                    yref=('y' + ax + ' domain') if ax else 'y domain',
                    x=xr, y=0.895, xanchor='right', yanchor='middle', showarrow=False,
                    text=txt, font=dict(family=FONT, size=12.5, color='black')))
for yr_ in RIGHT_XTICKS:
    ann.append(dict(xref='x6', yref='paper', x=yr_, y=py(550), text=str(yr_), textangle=-30,
                    showarrow=False, font=dict(family=FONT, size=14.5, color='black'),
                    xanchor='center', yanchor='middle'))
ann.append(dict(xref='paper', yref='paper', x=px(614), y=py(540), text='<i>t</i>', showarrow=False,
                xanchor='center', yanchor='middle', font=dict(family=FONT, size=15, color='black')))
ann.append(dict(xref='paper', yref='paper', x=px(1022), y=py(540), text='<i>t</i>', showarrow=False,
                xanchor='center', yanchor='middle', font=dict(family=FONT, size=15, color='black')))

CAPTION = [
    '<b>Figure 5.</b> Results of the learning task with the QRNN model. Numerical gradients were used for the training, without sampling',
    'noise. Each time series was divided into windows of 20 points, each one being a sample. The neural network must predict the',
    'value of the last 5 outputs for each window, by reducing the RMSE with respect to the last 5 points of the target. Dashed lines are',
    'the inputs <b><i>x</i></b><sub>(<i>t</i>)</sub>, from which we make the prediction. Solid lines represent the targets. Points are the predictions. Windows are',
    'represented in orange (red), blue (dark blue) or green (gold, dark gold) depending on whether the window is used for training',
    '(tra), validation (val) or testing (tes), respectively. In the test region, we add a window to make the prediction for the full test',
    'sequence (fte). For the Santa Fe series, a representative portion of the test region is displayed.',
]
CAP_Y = [594, 617, 641, 664, 687, 710, 733]
for line, yy in zip(CAPTION, CAP_Y):
    ann.append(dict(xref='paper', yref='paper', x=px(89), y=py(yy), xanchor='left', yanchor='middle',
                    text=line, showarrow=False, font=dict(family='Liberation Serif', size=20, color='#231f20')))
fig.update_layout(annotations=ann)

fig.add_shape(type='rect', xref='paper', yref='paper', x0=px(10), x1=px(1163), y0=py(790), y1=py(4),
              line=dict(color='#d0d0d0', width=2), fillcolor='rgba(0,0,0,0)', layer='below')

fig.write_html('out.html')
